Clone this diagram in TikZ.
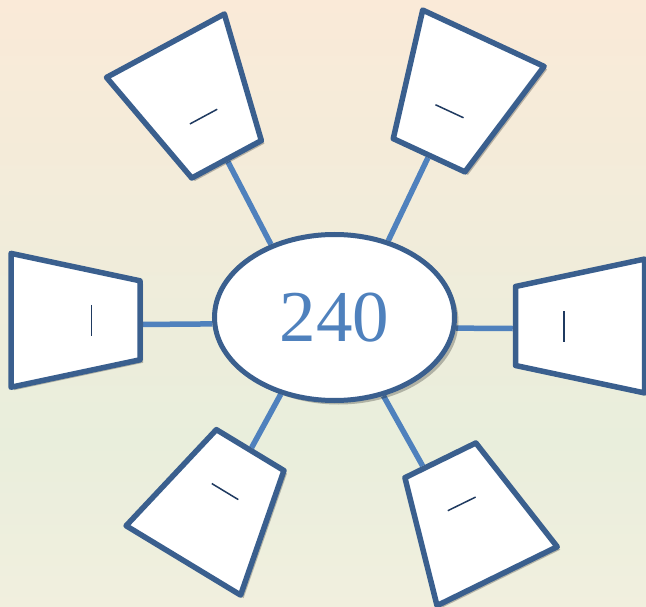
\documentclass[tikz,border=0pt]{standalone}
\usepackage{fontspec}
\setmainfont{Liberation Serif}
\usepackage{tikz}
\usetikzlibrary{
  calc, shapes.geometric, shadows
}
\definecolor{blueA}{HTML}{3A5F8E}
\definecolor{blueB}{HTML}{4F81BD}
\definecolor{navyA}{HTML}{1F3A60}
\definecolor{peachA}{HTML}{FAEAD8}
\definecolor{greenA}{HTML}{E9EEDC}
\definecolor{creamA}{HTML}{F1EFDE}
\pgfdeclarelayer{back}
\pgfdeclarelayer{links}
\pgfsetlayers{back,links,main}
\tikzset{
  hub/.style={
    ellipse, draw=blueA, fill=white, line width=5pt,
    minimum width=240pt, minimum height=166pt, inner sep=0pt,
    text=blueB, font=\fontsize{73}{80}\selectfont,
    drop shadow={shadow xshift=4pt, shadow yshift=-4pt, fill=black, opacity=0.25}
  },
  spoke/.style={
    trapezium, trapezium angle=78, draw=blueA, fill=white,
    line width=5.5pt, line join=round, inner xsep=39.5pt, inner ysep=64.5pt,
    rotate=#1,
    drop shadow={shadow xshift=3pt, shadow yshift=-3pt, fill=black, opacity=0.25}
  },
  link/.style={draw=blueB, line width=5.5pt},
  cursor/.style={draw=navyA, line width=1.5pt}
}

\begin{document}
\begin{tikzpicture}[x=1pt, y=-1pt]
  \useasboundingbox (0,0) rectangle (646,607);
  \begin{pgfonlayer}{back}
    \shade[top color=peachA, bottom color=greenA] (0,0) rectangle (646,440);
    \shade[top color=greenA, bottom color=creamA] (0,440) rectangle (646,607);
  \end{pgfonlayer}

  \node[hub] (hub) at (334.5,317.5) {240};
  \node[spoke=-90] (l) at (75.5,320.3) {};
  \node[spoke=-151.7] (tl) at (196,102.5) {};
  \node[spoke=155.1] (tr) at (456.25,96.75) {};
  \node[spoke=90] (r) at (580,326) {};
  \node[spoke=-31.2] (bl) at (216.75,505.25) {};
  \node[spoke=26.1] (br) at (468.75,518.25) {};

  \begin{pgfonlayer}{links}
    \draw[link] ($(l.top left corner)!0.55!(l.top right corner)$) -- (hub.183.3);
    \draw[link] (tl.top side) -- (hub.131.8);
    \draw[link] (tr.top side) -- (hub.55.1);
    \draw[link] ($(r.top left corner)!0.47!(r.top right corner)$) -- (hub.355.1);
    \draw[link] (bl.top side) -- (hub.235.9);
    \draw[link] ($(br.top left corner)!0.28!(br.top right corner)$) -- (hub.302.1);
  \end{pgfonlayer}

  % short marks inside the spokes
  \foreach \n in {l,tl,tr,r,bl,br}{
    \coordinate (\n-c) at ($(\n.center)!16pt!(\n.top side)$);
    \draw[cursor] ($(\n-c)!15.5pt!90:(\n.top side)$) -- ($(\n-c)!15.5pt!-90:(\n.top side)$);
  }
\end{tikzpicture}
\end{document}
